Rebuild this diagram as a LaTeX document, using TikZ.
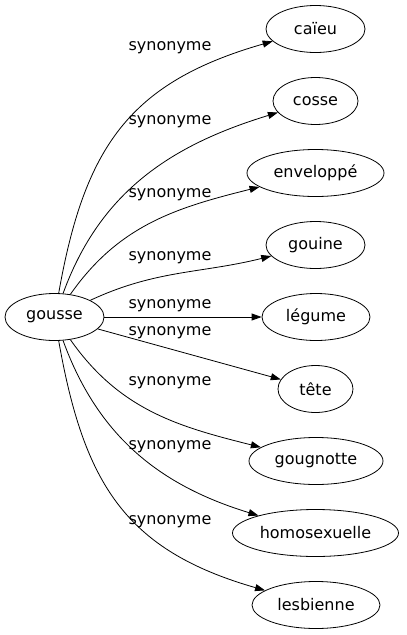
\documentclass[tikz,border=0pt]{standalone}
\usepackage{fontspec}
\setmainfont{DejaVu Sans}
\usetikzlibrary{shapes.geometric,arrows.meta}

\begin{document}
\begin{tikzpicture}[
        x=1pt,y=1pt,
        every node/.style={font=\fontsize{16}{19}\selectfont},
        term/.style={draw,ellipse,line width=0.8pt,inner sep=0pt,minimum height=47pt},
        syn/.style={line width=0.8pt,-{Triangle[length=10pt,width=7pt]}},
        lbl/.style={inner sep=0pt}
    ]
            \useasboundingbox (0,0) rectangle (407,-635);
            % source
            \node[term,minimum width=99pt] (gousse) at (54.5,-317) {gousse};
            % targets
            \node[term,minimum width=99pt] (caieu) at (315.5,-29) {caïeu};
            \node[term,minimum width=85pt] (cosse) at (315.5,-101) {cosse};
            \node[term,minimum width=137pt] (enveloppe) at (315.5,-173) {enveloppé};
            \node[term,minimum width=99pt] (gouine) at (315.5,-245) {gouine};
            \node[term,minimum width=108pt] (legume) at (316,-317) {légume};
            \node[term,minimum width=75pt] (tete) at (315.5,-389) {tête};
            \node[term,minimum width=134pt] (gougnotte) at (316,-461) {gougnotte};
            \node[term,minimum width=166pt] (homosexuelle) at (315.5,-533) {homosexuelle};
            \node[term,minimum width=128pt] (lesbienne) at (316,-605) {lesbienne};
            % edges
            \draw[syn] (gousse) to[out=80,in=196,looseness=1.15] (caieu)
                node[lbl] at (170,-48) {synonyme};
            \draw[syn] (gousse) to[out=70,in=197] (cosse)
                node[lbl] at (170,-122) {synonyme};
            \draw[syn] (gousse) to[out=55,in=194] (enveloppe)
                node[lbl] at (170,-195) {synonyme};
            \draw[syn] (gousse) to[out=25,in=194] (gouine)
                node[lbl] at (170,-258) {synonyme};
            \draw[syn] (gousse) -- (legume)
                node[lbl] at (170,-306) {synonyme};
            \draw[syn] (gousse) -- (tete)
                node[lbl] at (170,-333) {synonyme};
            \draw[syn] (gousse) to[out=-55,in=166] (gougnotte)
                node[lbl] at (170,-383) {synonyme};
            \draw[syn] (gousse) to[out=-70,in=163] (homosexuelle)
                node[lbl] at (170,-447) {synonyme};
            \draw[syn] (gousse) to[out=-80,in=164,looseness=1.15] (lesbienne)
                node[lbl] at (170,-522) {synonyme};
\end{tikzpicture}
\end{document}
